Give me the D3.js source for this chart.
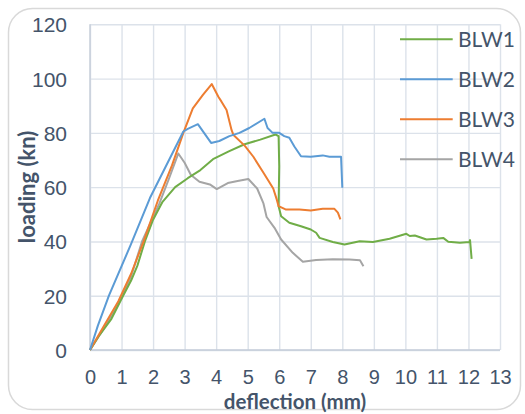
<!DOCTYPE html>
<html>
<head>
<meta charset="utf-8">
<script src="https://cdn.jsdelivr.net/npm/d3@7"></script>
<style>
  body { margin: 0; background: #fff; }
  svg { display: block; font-family: Lato, "Open Sans", sans-serif; }
</style>
</head>
<body>
<svg id="chart" width="525" height="414"></svg>
<script>
// series values, [deflection mm, load kN]
var blw1 = [[0,0],[0.3,5.5],[0.68,11.5],[1.05,20],[1.3,25.5],[1.5,31],[1.74,40],[2.0,48],[2.3,54.6],[2.7,60],
  [3.1,63.3],[3.5,66.3],[3.9,70.3],[4.4,73.2],[4.9,75.8],[5.4,77.5],[5.88,79.4],[5.98,78.8],[6.0,67.7],
  [5.98,53],[6.06,49.3],[6.32,46.9],[6.69,45.6],[7.0,44.4],[7.17,43.2],[7.28,41.3],[7.7,39.8],[8.07,38.9],
  [8.55,40.1],[8.97,39.8],[9.5,41],[10.03,42.8],[10.14,42],[10.3,42.2],[10.67,40.7],[10.99,41],[11.2,41.3],
  [11.36,39.9],[11.73,39.5],[12.03,39.8],[12.05,40.5],[12.1,33.6]];
var blw2 = [[0,0],[0.25,9],[0.6,20],[1.3,39],[1.9,56],[2.96,80.5],[3.1,81.5],[3.42,83.2],[3.84,76.3],
  [4.1,77],[4.42,78.8],[4.74,80],[5.05,81.8],[5.53,85.2],[5.63,81.8],[5.79,80],[6.0,80],[6.16,78.8],
  [6.32,78.2],[6.48,75],[6.69,71.4],[7.0,71.2],[7.38,71.7],[7.59,71.2],[7.96,71.2],[8.0,59.8]];
var blw3 = [[0,0],[0.45,9],[0.9,18],[1.3,28],[1.7,40],[2.15,55],[2.6,68],[2.96,80],[3.26,89],[3.58,94],
  [3.86,98],[4.07,93.3],[4.17,91.5],[4.33,88.4],[4.49,81],[4.55,79.2],[4.91,75.2],[5.18,71.2],[5.5,65.3],
  [5.81,59.5],[5.92,55.5],[5.98,53],[6.2,51.8],[6.64,51.8],[7.0,51.4],[7.38,52],[7.75,52],[7.86,50.6],[7.94,48.1]];
var blw4 = [[0,0],[0.5,9],[0.89,17],[1.3,27],[1.65,40],[2.2,54],[2.5,63],[2.8,72.4],[3.0,69],[3.2,64.5],
  [3.47,62],[3.8,61],[4.02,59.3],[4.37,61.5],[4.68,62.3],[5.02,63],[5.3,59.5],[5.5,54],[5.6,49],[5.85,45],
  [6.06,40.7],[6.43,35.8],[6.75,32.5],[7.17,33.2],[7.7,33.4],[8.23,33.3],[8.56,33.1],[8.67,30.9]];

var seriesNames = ["BLW1", "BLW2", "BLW3", "BLW4"];
var seriesColors = ["#70AD47", "#5B9BD5", "#ED7D31", "#A5A5A5"];
var xTicks = [0,1,2,3,4,5,6,7,8,9,10,11,12,13];
var yTicks = [0,20,40,60,80,100,120];

var svg = d3.select("#chart");
var textColor = "#44546A";

// outer rounded frame
svg.append("rect")
  .attr("x", 8.5).attr("y", 8.5)
  .attr("width", 512).attr("height", 401)
  .attr("rx", 24).attr("ry", 24)
  .attr("fill", "#fff")
  .attr("stroke", "#D9D9D9")
  .attr("stroke-width", 1.5);

var x = d3.scaleLinear().domain([0, 13]).range([90, 500]);
var y = d3.scaleLinear().domain([0, 120]).range([350, 24.3]);

// gridlines + tick labels
var xAxis = svg.append("g")
  .attr("transform", "translate(0,350)")
  .call(d3.axisBottom(x).tickValues(xTicks).tickSizeInner(-(350 - 24.3)).tickSizeOuter(0).tickPadding(19.5));
var yAxis = svg.append("g")
  .attr("transform", "translate(90,0)")
  .call(d3.axisLeft(y).tickValues(yTicks).tickSizeInner(-(500 - 90)).tickSizeOuter(0).tickPadding(23));

[xAxis, yAxis].forEach(function(a){
  a.select(".domain").remove();
  a.selectAll(".tick line").attr("stroke", "#DCE2EA").attr("stroke-width", 1.4);
  a.selectAll(".tick text").attr("fill", textColor).style("font-size", "21px");
});
yAxis.selectAll(".tick text").attr("dy", "0.36em");
xAxis.selectAll(".tick text").style("font-size", "20px");

// axis lines a bit darker than grid
svg.append("line").attr("x1", x(0)).attr("x2", x(0)).attr("y1", y(0)).attr("y2", y(120))
  .attr("stroke", "#C5CDD8").attr("stroke-width", 1.4);
svg.append("line").attr("x1", x(0)).attr("x2", x(13)).attr("y1", y(0)).attr("y2", y(0))
  .attr("stroke", "#C5CDD8").attr("stroke-width", 1.4);

var line = d3.line()
  .x(function(d){ return x(d[0]); })
  .y(function(d){ return y(d[1]); });

var allSeries = [blw1, blw2, blw3, blw4];
// draw order: gray under, then green, orange, blue like the picture
[3, 0, 2, 1].forEach(function(i){
  svg.append("path")
    .datum(allSeries[i])
    .attr("fill", "none")
    .attr("stroke", seriesColors[i])
    .attr("stroke-width", 2)
    .attr("stroke-linejoin", "round")
    .attr("d", line);
});

// legend
var legend = svg.append("g");
seriesNames.forEach(function(name, i){
  var ly = 39.3 + i * 40;
  legend.append("line")
    .attr("x1", 400).attr("x2", 452.7).attr("y1", ly).attr("y2", ly)
    .attr("stroke", seriesColors[i]).attr("stroke-width", 2);
  legend.append("text")
    .attr("x", 458).attr("y", ly).attr("dy", "0.36em")
    .attr("fill", textColor).style("font-size", "21px")
    .text(name);
});

// axis titles
svg.append("text")
  .attr("x", 295).attr("y", 408.5)
  .attr("text-anchor", "middle")
  .attr("fill", textColor)
  .style("font-size", "20.5px").style("font-weight", "bold")
  .text("deflection (mm)");

svg.append("text")
  .attr("transform", "translate(35,187) rotate(-90)")
  .attr("text-anchor", "middle")
  .attr("fill", textColor)
  .style("font-size", "22px").style("font-weight", "bold")
  .text("loading (kn)");
</script>
</body>
</html>
